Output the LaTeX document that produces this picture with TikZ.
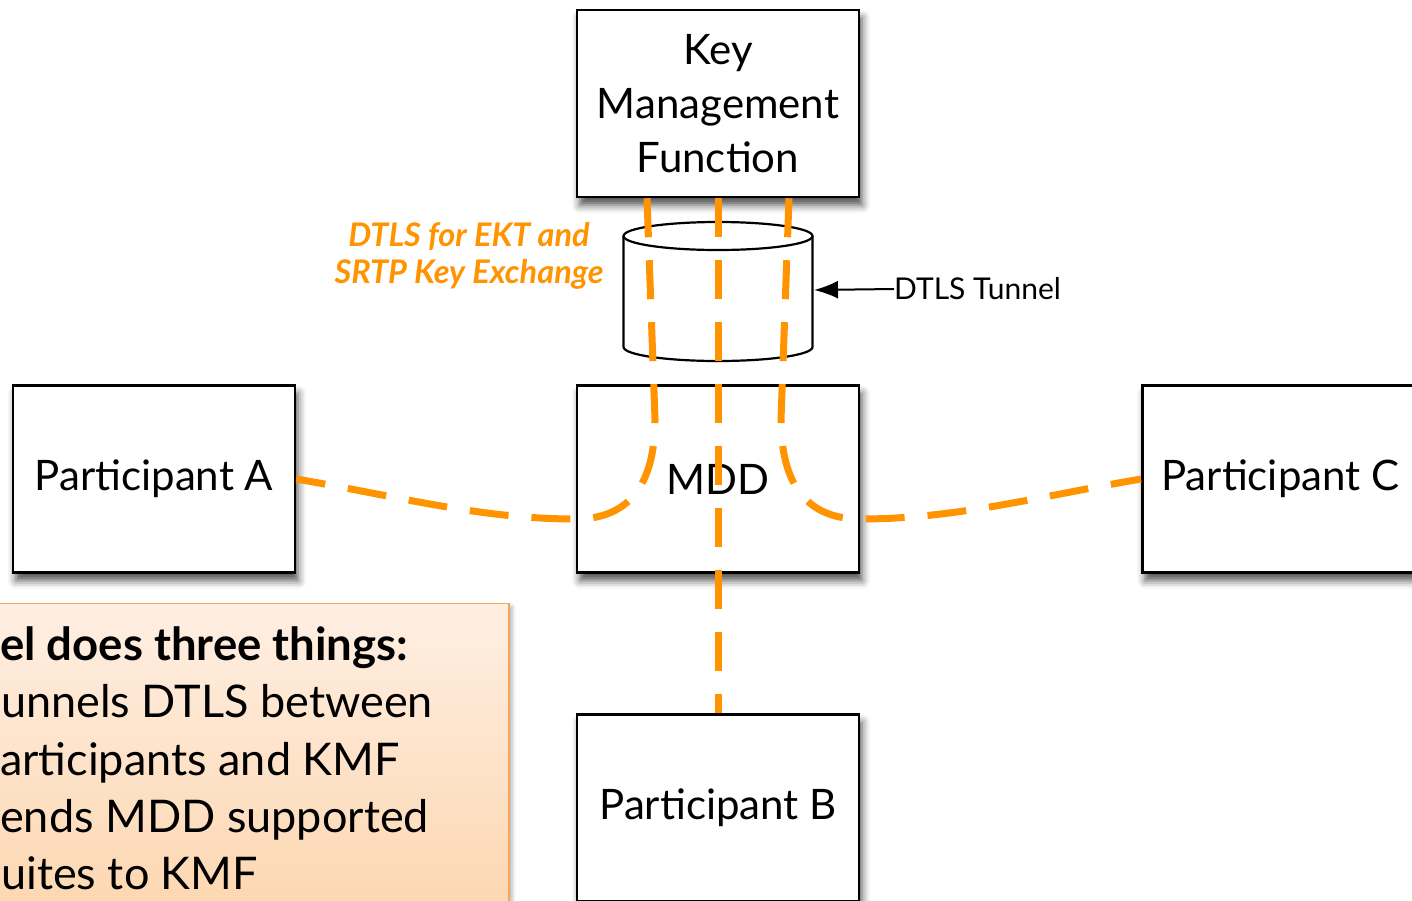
\documentclass[tikz,border=0pt]{standalone}
\usepackage{fontspec}
\setmainfont{Lato}
\usetikzlibrary{shadows.blur,arrows.meta}
\definecolor{tunnelorange}{RGB}{255,148,0}
\definecolor{notetop}{RGB}{254,239,227}
\definecolor{notebottom}{RGB}{253,214,175}
\definecolor{noteborder}{RGB}{244,166,96}
\begin{document}
\begin{tikzpicture}[x=1pt,y=-1pt,
  entity/.style={draw=black, line width=2.5pt, fill=white,
    minimum width=282pt, minimum height=187pt, inner sep=0pt,
    align=center, font=\fontsize{42}{54}\selectfont,
    blur shadow={shadow xshift=3pt, shadow yshift=-8pt,
      shadow blur radius=8pt, shadow opacity=70}},
  link/.style={draw=tunnelorange, line width=7pt,
    dash pattern=on 39pt off 23pt},
  notetext/.style={anchor=base west, inner sep=0pt,
    font=\fontsize{45}{57}\selectfont},
]
\useasboundingbox (0,0) rectangle (1412,900);
\clip (0,0) rectangle (1412,900);

% entities
\node[entity] (kmf)   at (718,103.5) {Key\\Management\\Function};
\node[entity] (partA) at (154,479) {Participant A};
\node[entity] (mdd)   at (718,479) {MDD};
\node[entity, anchor=west, inner xsep=19pt] (partC) at (1141,479) {\makebox[262pt][l]{Participant C}};
\node[entity] (partB) at (718,808) {Participant B};

% DTLS tunnel cylinder
\draw[line width=2.2pt, fill=white]
  (623.5,236) -- (623.5,347)
  arc[start angle=180, end angle=360, x radius=94.5pt, y radius=14pt]
  -- (812.5,236);
\draw[line width=2.2pt, fill=white] (718,236) ellipse[x radius=94.5pt, y radius=14pt];
\coordinate (tunnel) at (814,290);

% tunnel label and pointer
\node[anchor=west, inner sep=0pt, font=\fontsize{30}{34}\selectfont] (tunlabel) at (894,289) {DTLS Tunnel};
\draw[line width=2pt, -{Latex[length=24pt,width=18pt]}] (tunlabel.west) -- (tunnel);

% exchange label
\node[align=center, inner sep=0pt, text=tunnelorange,
  font=\fontsize{32.5}{37}\bfseries\itshape\selectfont] (exch) at (469,256)
  {DTLS for EKT and\\SRTP Key Exchange};

% note box
\path[top color=notetop, bottom color=notebottom, draw=noteborder, line width=1.8pt,
  blur shadow={shadow xshift=3pt, shadow yshift=-3pt, shadow blur radius=4pt, shadow opacity=30}]
  (-20,603.5) rectangle (509,920);
\node[notetext, font=\fontsize{45.5}{57}\bfseries\selectfont] (n1) at (0,660) {el does three things:};
\node[notetext] (n2) at (1,717) {unnels DTLS between};
\node[notetext] (n3) at (0,775) {articipants and KMF};
\node[notetext] (n4) at (0,832) {ends MDD supported};
\node[notetext] (n5) at (1,889) {uites to KMF};

% DTLS flows through the MDD
\draw[link] (kmf.south) -- (partB.north);
\draw[link] ([xshift=-71pt]kmf.south) -- ([xshift=-63pt,yshift=-35pt]mdd.north)
  .. controls +(0,75) and +(45,0) .. ([yshift=-40pt]mdd.west)
  .. controls +(-95,0) and +(105,18) .. (partA.east);
\draw[link] ([xshift=71pt]kmf.south) -- ([xshift=63pt,yshift=-35pt]mdd.north)
  .. controls +(0,75) and +(-45,0) .. ([yshift=-40pt]mdd.east)
  .. controls +(95,0) and +(-105,18) .. (partC.west);
\end{tikzpicture}
\end{document}
